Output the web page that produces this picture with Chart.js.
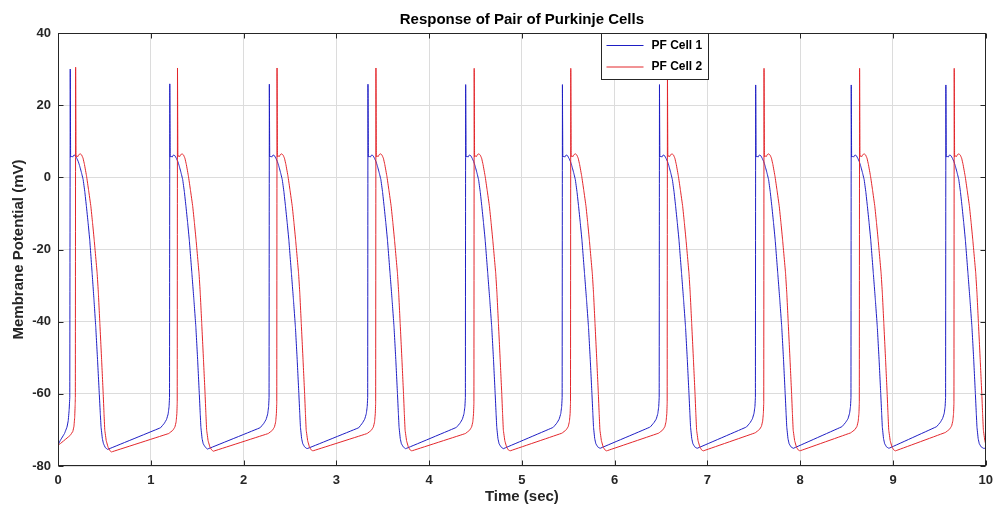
<!DOCTYPE html>
<html>
<head>
<meta charset="utf-8">
<script src="https://cdn.jsdelivr.net/npm/chart.js@4.4.0/dist/chart.umd.min.js"></script>
<style>
body{margin:0;background:#fff}
canvas{display:block}
</style>
</head>
<body>
<canvas id="c" width="1000" height="506"></canvas>
<script>
const title="Response of Pair of Purkinje Cells"
const xLabel="Time (sec)"
const yLabel="Membrane Potential (mV)"
const names=["PF Cell 1","PF Cell 2"]
const xTicks=[0,1,2,3,4,5,6,7,8,9,10]
const yTicks=[-80,-60,-40,-20,0,20,40]

// PF Cell 1: time (sec), one row per beat
const cell1T=[
0,0.025,0.07,0.097,0.11,0.12,0.127,
0.132,0.136,0.147,0.157,0.172,0.187,0.202,0.218,0.232,0.252,0.271,0.289,0.306,0.324,0.342,0.368,0.388,0.407,0.426,0.445,0.456,0.464,0.478,0.49,0.51,0.535,1.105,1.145,1.17,1.187,1.197,1.202,
1.205,1.209,1.22,1.23,1.245,1.26,1.275,1.291,1.305,1.325,1.344,1.362,1.379,1.397,1.415,1.443,1.465,1.486,1.505,1.523,1.533,1.54,1.553,1.565,1.585,1.611,2.178,2.218,2.243,2.26,2.27,2.275,
2.278,2.282,2.293,2.303,2.318,2.333,2.348,2.364,2.378,2.398,2.417,2.435,2.452,2.47,2.488,2.516,2.538,2.559,2.578,2.596,2.606,2.613,2.626,2.638,2.658,2.684,3.241,3.281,3.306,3.323,3.333,3.338,
3.341,3.345,3.356,3.366,3.381,3.396,3.411,3.427,3.441,3.461,3.48,3.498,3.515,3.533,3.551,3.579,3.601,3.622,3.641,3.659,3.669,3.676,3.689,3.701,3.721,3.747,4.294,4.334,4.359,4.376,4.386,4.391,
4.394,4.398,4.409,4.419,4.434,4.449,4.464,4.48,4.494,4.514,4.533,4.551,4.568,4.586,4.604,4.632,4.654,4.675,4.694,4.712,4.722,4.729,4.742,4.754,4.774,4.8,5.337,5.377,5.402,5.419,5.429,5.434,
5.437,5.441,5.452,5.462,5.477,5.492,5.507,5.523,5.537,5.557,5.576,5.594,5.611,5.629,5.647,5.675,5.697,5.718,5.737,5.755,5.765,5.772,5.785,5.797,5.817,5.843,6.383,6.423,6.448,6.465,6.475,6.48,
6.483,6.487,6.498,6.508,6.523,6.538,6.553,6.569,6.583,6.603,6.622,6.64,6.657,6.675,6.693,6.721,6.743,6.764,6.783,6.801,6.811,6.818,6.831,6.843,6.863,6.889,7.42,7.46,7.485,7.502,7.512,7.517,
7.52,7.524,7.535,7.545,7.56,7.575,7.59,7.606,7.62,7.64,7.659,7.677,7.694,7.712,7.73,7.758,7.78,7.801,7.82,7.838,7.848,7.855,7.868,7.88,7.9,7.926,8.45,8.49,8.515,8.532,8.542,8.547,
8.55,8.554,8.565,8.575,8.59,8.605,8.62,8.636,8.65,8.67,8.689,8.707,8.724,8.742,8.76,8.788,8.81,8.831,8.85,8.868,8.878,8.885,8.898,8.91,8.93,8.956,9.47,9.51,9.535,9.552,9.562,9.567,
9.57,9.574,9.585,9.595,9.61,9.625,9.64,9.656,9.67,9.69,9.709,9.727,9.744,9.762,9.78,9.808,9.83,9.851,9.87,9.888,9.898,9.905,9.918,9.93,9.95,9.976,10
]
// PF Cell 1: membrane potential (mV)
const cell1V=[
-74.2,-72.9,-71,-69.2,-67.5,-64.5,-61,
30,5.6,5.9,5.6,6.2,6,5.3,4.4,3.3,1.4,-0.6,-4,-8,-12.5,-17.3,-26.6,-34,-41.5,-50.5,-60,-65.5,-69.2,-72.4,-73.8,-74.9,-75.4,-69.4,-68.2,-67.1,-65.6,-63.6,-61,
25.9,5.6,5.9,5.6,6.2,6,5.3,4.4,3.3,1.4,-0.6,-4,-8,-12.5,-17.3,-26.6,-34,-41.5,-50.5,-60,-65.5,-69.2,-72.4,-73.8,-74.7,-75.3,-69.4,-68.2,-67.1,-65.6,-63.6,-61,
25.8,5.6,5.9,5.6,6.2,6,5.3,4.4,3.3,1.4,-0.6,-4,-8,-12.5,-17.3,-26.6,-34,-41.5,-50.5,-60,-65.5,-69.2,-72.4,-73.8,-74.7,-75.2,-69.4,-68.1,-67,-65.5,-63.5,-61,
25.8,5.6,5.9,5.6,6.2,6,5.3,4.4,3.3,1.4,-0.6,-4,-8,-12.5,-17.3,-26.6,-34,-41.5,-50.5,-60,-65.5,-69.2,-72.4,-73.8,-74.7,-75.2,-69.3,-68.1,-67,-65.5,-63.5,-61,
25.7,5.6,5.9,5.6,6.2,6,5.3,4.4,3.3,1.4,-0.6,-4,-8,-12.5,-17.3,-26.6,-34,-41.5,-50.5,-60,-65.5,-69.2,-72.4,-73.8,-74.7,-75.2,-69.3,-68.1,-67,-65.5,-63.5,-61,
25.7,5.6,5.9,5.6,6.2,6,5.3,4.4,3.3,1.4,-0.6,-4,-8,-12.5,-17.3,-26.6,-34,-41.5,-50.5,-60,-65.5,-69.2,-72.4,-73.8,-74.7,-75.1,-69.2,-68,-67,-65.5,-63.5,-61,
25.7,5.6,5.9,5.6,6.2,6,5.3,4.4,3.3,1.4,-0.6,-4,-8,-12.5,-17.3,-26.6,-34,-41.5,-50.5,-60,-65.5,-69.2,-72.4,-73.8,-74.7,-75.1,-69.2,-68,-66.9,-65.4,-63.5,-61,
25.6,5.6,5.9,5.6,6.2,6,5.3,4.4,3.3,1.4,-0.6,-4,-8,-12.5,-17.3,-26.6,-34,-41.5,-50.5,-60,-65.5,-69.2,-72.4,-73.8,-74.7,-75.1,-69.1,-67.9,-66.9,-65.4,-63.5,-61,
25.6,5.6,5.9,5.6,6.2,6,5.3,4.4,3.3,1.4,-0.6,-4,-8,-12.5,-17.3,-26.6,-34,-41.5,-50.5,-60,-65.5,-69.2,-72.4,-73.8,-74.7,-75.1,-69.1,-67.9,-66.8,-65.4,-63.5,-61,
25.6,5.6,5.9,5.6,6.2,6,5.3,4.4,3.3,1.4,-0.6,-4,-8,-12.5,-17.3,-26.6,-34,-41.5,-50.5,-60,-65.5,-69.2,-72.4,-73.8,-74.7,-75.1,-75.1
]

// PF Cell 2: time (sec)
const cell2T=[
0,0.002,0.025,0.132,0.16,0.172,0.18,0.185,0.187,
0.19,0.194,0.202,0.212,0.225,0.24,0.255,0.27,0.285,0.308,0.33,0.354,0.372,0.39,0.422,0.435,0.451,0.47,0.487,0.496,0.504,0.52,0.54,0.56,0.577,1.193,1.238,1.26,1.273,1.281,1.285,
1.288,1.292,1.3,1.31,1.323,1.338,1.353,1.368,1.383,1.406,1.428,1.452,1.47,1.488,1.52,1.533,1.549,1.568,1.585,1.594,1.602,1.618,1.638,1.658,1.675,2.266,2.311,2.333,2.346,2.354,2.358,
2.361,2.365,2.373,2.383,2.396,2.411,2.426,2.441,2.456,2.479,2.501,2.525,2.543,2.561,2.593,2.606,2.622,2.641,2.658,2.667,2.675,2.691,2.711,2.731,2.748,3.332,3.377,3.399,3.412,3.42,3.424,
3.427,3.431,3.439,3.449,3.462,3.477,3.492,3.507,3.522,3.545,3.567,3.591,3.609,3.627,3.659,3.672,3.688,3.707,3.724,3.733,3.741,3.757,3.777,3.797,3.814,4.391,4.436,4.458,4.471,4.479,4.483,
4.486,4.49,4.498,4.508,4.521,4.536,4.551,4.566,4.581,4.604,4.626,4.65,4.668,4.686,4.718,4.731,4.747,4.766,4.783,4.792,4.8,4.816,4.836,4.856,4.873,5.432,5.477,5.499,5.512,5.52,5.524,
5.527,5.531,5.539,5.549,5.562,5.577,5.592,5.607,5.622,5.645,5.667,5.691,5.709,5.727,5.759,5.772,5.788,5.807,5.824,5.833,5.841,5.857,5.877,5.897,5.914,6.474,6.519,6.541,6.554,6.562,6.566,
6.569,6.573,6.581,6.591,6.604,6.619,6.634,6.649,6.664,6.687,6.709,6.733,6.751,6.769,6.801,6.814,6.83,6.849,6.866,6.875,6.883,6.899,6.919,6.939,6.956,7.515,7.56,7.582,7.595,7.603,7.607,
7.61,7.614,7.622,7.632,7.645,7.66,7.675,7.69,7.705,7.728,7.75,7.774,7.792,7.81,7.842,7.855,7.871,7.89,7.907,7.916,7.924,7.94,7.96,7.98,7.997,8.545,8.59,8.612,8.625,8.633,8.637,
8.64,8.644,8.652,8.662,8.675,8.69,8.705,8.72,8.735,8.758,8.78,8.804,8.822,8.84,8.872,8.885,8.901,8.92,8.937,8.946,8.954,8.97,8.99,9.01,9.027,9.565,9.61,9.632,9.645,9.653,9.657,
9.66,9.664,9.672,9.682,9.695,9.71,9.725,9.74,9.755,9.778,9.8,9.824,9.842,9.86,9.892,9.905,9.921,9.94,9.957,9.966,9.974,9.99,10
]
// PF Cell 2: membrane potential (mV)
const cell2V=[
0,-74.2,-73.8,-71.5,-70.4,-69,-66.5,-63,-61,
30.5,5.7,6,5.7,6.3,6.5,6.2,5.3,3.6,0.3,-3.6,-8,-12.5,-17.3,-26.6,-32,-40.4,-50.5,-59.9,-65.5,-70,-73,-74.8,-75.8,-76.1,-71,-70.1,-69.2,-67.8,-65.5,-62.5,
30.3,5.7,6,5.7,6.3,6.5,6.2,5.3,3.6,0.3,-3.6,-8,-12.5,-17.3,-26.6,-32,-40.4,-50.5,-59.9,-65.5,-70,-73,-74.8,-75.6,-75.9,-71,-70.1,-69.2,-67.8,-65.5,-62.5,
30.3,5.7,6,5.7,6.3,6.5,6.2,5.3,3.6,0.3,-3.6,-8,-12.5,-17.3,-26.6,-32,-40.4,-50.5,-59.9,-65.5,-70,-73,-74.8,-75.6,-75.8,-71,-70.1,-69.2,-67.8,-65.5,-62.5,
30.3,5.7,6,5.7,6.3,6.5,6.2,5.3,3.6,0.3,-3.6,-8,-12.5,-17.3,-26.6,-32,-40.4,-50.5,-59.9,-65.5,-70,-73,-74.8,-75.6,-75.8,-71,-70.1,-69.2,-67.8,-65.5,-62.5,
30.2,5.7,6,5.7,6.3,6.5,6.2,5.3,3.6,0.3,-3.6,-8,-12.5,-17.3,-26.6,-32,-40.4,-50.5,-59.9,-65.5,-70,-73,-74.8,-75.6,-75.8,-70.9,-70,-69.1,-67.7,-65.5,-62.5,
30.2,5.7,6,5.7,6.3,6.5,6.2,5.3,3.6,0.3,-3.6,-8,-12.5,-17.3,-26.6,-32,-40.4,-50.5,-59.9,-65.5,-70,-73,-74.8,-75.6,-75.8,-70.9,-70,-69.1,-67.7,-65.5,-62.5,
30.2,5.7,6,5.7,6.3,6.5,6.2,5.3,3.6,0.3,-3.6,-8,-12.5,-17.3,-26.6,-32,-40.4,-50.5,-59.9,-65.5,-70,-73,-74.8,-75.6,-75.8,-70.8,-69.9,-69,-67.6,-65.4,-62.5,
30.2,5.7,6,5.7,6.3,6.5,6.2,5.3,3.6,0.3,-3.6,-8,-12.5,-17.3,-26.6,-32,-40.4,-50.5,-59.9,-65.5,-70,-73,-74.8,-75.6,-75.8,-70.8,-69.9,-69,-67.6,-65.4,-62.5,
30.2,5.7,6,5.7,6.3,6.5,6.2,5.3,3.6,0.3,-3.6,-8,-12.5,-17.3,-26.6,-32,-40.4,-50.5,-59.9,-65.5,-70,-73,-74.8,-75.6,-75.8,-70.7,-69.8,-68.9,-67.5,-65.4,-62.5,
30.2,5.7,6,5.7,6.3,6.5,6.2,5.3,3.6,0.3,-3.6,-8,-12.5,-17.3,-26.6,-32,-40.4,-50.5,-59.9,-65.5,-70,-73,-74
]

const font="'Liberation Sans', Arial, sans-serif"
const ink="#262626"

function toPts(t,v){
return t.map((x,i)=>({x:x,y:v[i]}))
}

// box, inward ticks, title and legend, drawn the MATLAB way
const frame={
id:"frame",
afterDraw(chart){
const ctx=chart.ctx
const a=chart.chartArea
const x=chart.scales.x
const y=chart.scales.y
const L=Math.round(a.left)+0.5
const R=Math.round(a.right)-0.5
const T=Math.round(a.top)+0.5
const B=Math.round(a.bottom)-0.5
ctx.save()
ctx.strokeStyle=ink
ctx.lineWidth=1
ctx.strokeRect(L,T,R-L,B-T)
ctx.beginPath()
xTicks.forEach(v=>{
let p=Math.round(x.getPixelForValue(v))+0.5
ctx.moveTo(p,B);ctx.lineTo(p,B-5)
ctx.moveTo(p,T);ctx.lineTo(p,T+5)
})
yTicks.forEach(v=>{
let p=Math.round(y.getPixelForValue(v))+0.5
ctx.moveTo(L,p);ctx.lineTo(L+5,p)
ctx.moveTo(R,p);ctx.lineTo(R-5,p)
})
ctx.stroke()

ctx.fillStyle="#000"
ctx.font="bold 15px "+font
ctx.textAlign="center"
ctx.textBaseline="middle"
ctx.fillText(title,(a.left+a.right)/2,20)

// legend
let lx=601.5,ly=T,lw=107,lh=46
ctx.fillStyle="#fff"
ctx.fillRect(lx,ly,lw,lh)
ctx.strokeStyle=ink
ctx.strokeRect(lx,ly,lw,lh)
ctx.font="bold 12px "+font
ctx.textAlign="left"
chart.data.datasets.forEach((d,i)=>{
let yy=ly+12+i*21.5
ctx.strokeStyle=d.borderColor
ctx.beginPath()
ctx.moveTo(lx+5,yy);ctx.lineTo(lx+42,yy)
ctx.stroke()
ctx.fillStyle="#000"
ctx.fillText(d.label,lx+50,yy)
})
ctx.restore()
}
}

// tiny tension keeps the lines straight but skips the fast path (it leaves stubs on steep runs)
new Chart(document.getElementById("c"),{
type:"line",
data:{
datasets:[
{label:names[0],data:toPts(cell1T,cell1V),borderColor:"#1e1ec4",borderWidth:1,pointRadius:0,tension:0.02,order:1},
{label:names[1],data:toPts(cell2T,cell2V),borderColor:"#e3262b",borderWidth:1,pointRadius:0,tension:0.02,order:0}
]
},
options:{
responsive:false,
animation:false,
layout:{padding:{top:33,right:11,left:0,bottom:0}},
plugins:{legend:{display:false},tooltip:{enabled:false}},
scales:{
x:{
type:"linear",min:0,max:10,
afterBuildTicks:s=>{s.ticks=xTicks.map(v=>({value:v}))},
grid:{color:"#dcdcdc",drawTicks:false},
border:{display:false},
ticks:{font:{family:font,size:13,weight:"bold"},color:ink,padding:7,maxRotation:0},
title:{display:true,text:xLabel,font:{family:font,size:15,weight:"bold"},color:ink,padding:{top:0,bottom:0}},
afterFit:s=>{s.height=40}
},
y:{
type:"linear",min:-80,max:40,
afterBuildTicks:s=>{s.ticks=yTicks.map(v=>({value:v}))},
grid:{color:"#dcdcdc",drawTicks:false},
border:{display:false},
ticks:{font:{family:font,size:13,weight:"bold"},color:ink,padding:7},
title:{display:true,text:yLabel,font:{family:font,size:15,weight:"bold"},color:ink,padding:{top:10,bottom:0}},
afterFit:s=>{s.width=58}
}
}
},
plugins:[frame]
})
</script>
</body>
</html>
